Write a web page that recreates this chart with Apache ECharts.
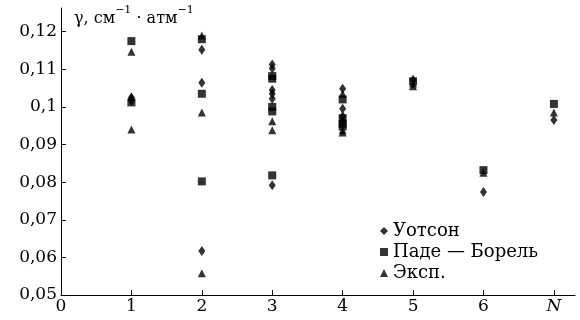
<!DOCTYPE html>
<html lang="ru">
<head>
<meta charset="UTF-8">
<title>gamma</title>
<script src="https://cdn.jsdelivr.net/npm/echarts@6/dist/echarts.min.js"></script>
<style>
  html, body { margin: 0; padding: 0; background: #fff; }
  #chart { width: 580px; height: 320px; }
</style>
</head>
<body>
<div id="chart"></div>
<script>
  // подписи оси X (последняя — N)
  var xTicks = [0, 1, 2, 3, 4, 5, 6, 7];
  var xLabels = ['0', '1', '2', '3', '4', '5', '6', 'N'];
  var yTicks = [0.05, 0.06, 0.07, 0.08, 0.09, 0.1, 0.11, 0.12];

  var seriesNames = ['Уотсон', 'Паде — Борель', 'Эксп.'];

  // Уотсон
  var watson = [
    [1, 0.1025], [1, 0.1017],
    [2, 0.1152], [2, 0.1064], [2, 0.0617],
    [3, 0.1113], [3, 0.1102], [3, 0.1045], [3, 0.1035], [3, 0.1022], [3, 0.0792],
    [4, 0.1048], [4, 0.0995], [4, 0.0975], [4, 0.0962],
    [5, 0.1072],
    [6, 0.0774],
    [7, 0.0965]
  ];
  // Паде — Борель
  var padeBorel = [
    [1, 0.1175], [1, 0.1012],
    [2, 0.1180], [2, 0.1035], [2, 0.0802],
    [3, 0.1082], [3, 0.1075], [3, 0.1000], [3, 0.0988], [3, 0.0818],
    [4, 0.1020], [4, 0.0970], [4, 0.0955], [4, 0.0948],
    [5, 0.1068],
    [6, 0.0832],
    [7, 0.1008]
  ];
  // Эксп.
  var experiment = [
    [1, 0.1147], [1, 0.1027], [1, 0.0940],
    [2, 0.1190], [2, 0.0985], [2, 0.0558],
    [3, 0.0962], [3, 0.0938],
    [4, 0.1035], [4, 0.0938], [4, 0.0932],
    [5, 0.1055], [5, 0.1062],
    [6, 0.0825],
    [7, 0.0985]
  ];

  var font = 'DejaVu Serif';

  function yFmt(v) {
    var s = String(Math.round(v * 100) / 100);
    return s.replace('.', ',');
  }

  var option = {
    animation: false,
    backgroundColor: '#fff',
    textStyle: { fontFamily: font, color: '#000' },
    grid: { left: 61, right: 5, top: 8, bottom: 25, containLabel: false },
    legend: {
      orient: 'vertical',
      left: 375,
      top: 217,
      itemWidth: 8,
      itemHeight: 8,
      itemGap: 3,
      textStyle: { fontFamily: font, fontSize: 18, color: '#000', padding: [0, 0, 0, 0] },
      data: [
        { name: seriesNames[0], icon: 'diamond' },
        { name: seriesNames[1], icon: 'rect' },
        { name: seriesNames[2], icon: 'triangle' }
      ]
    },
    graphic: [{
      type: 'text',
      left: 74,
      top: 5,
      style: {
        text: '{a|γ, см}{s|−1}{a| · атм}{s|−1}',
        rich: {
          a: { fontFamily: font, fontSize: 16, fill: '#000', verticalAlign: 'bottom', lineHeight: 22 },
          s: { fontFamily: font, fontSize: 11, fill: '#000', verticalAlign: 'top', lineHeight: 22 }
        }
      }
    }],
    xAxis: {
      type: 'value',
      min: 0,
      max: 7.3,
      splitLine: { show: false },
      axisLine: { lineStyle: { color: '#000', width: 1 } },
      axisTick: { inside: true, length: 5, lineStyle: { color: '#000' }, customValues: xTicks },
      axisLabel: {
        customValues: xTicks,
        margin: 3,
        fontSize: 17,
        fontFamily: font,
        color: '#000',
        formatter: function (v) {
          var i = xTicks.indexOf(Math.round(v));
          var t = xLabels[i];
          return t === 'N' ? '{i|N}' : t;
        },
        rich: { i: { fontStyle: 'italic', fontSize: 17, fontFamily: font, color: '#000' } }
      }
    },
    yAxis: {
      type: 'value',
      min: 0.05,
      max: 0.1263,
      splitLine: { show: false },
      axisLine: { show: true, lineStyle: { color: '#000', width: 1 } },
      axisTick: { show: true, inside: true, length: 5, lineStyle: { color: '#000' }, customValues: yTicks },
      axisLabel: {
        customValues: yTicks,
        margin: 4,
        fontSize: 17,
        fontFamily: font,
        color: '#000',
        formatter: yFmt
      }
    },
    series: [
      {
        name: seriesNames[0], type: 'scatter', symbol: 'diamond', symbolSize: [7, 10],
        itemStyle: { color: '#000' }, data: watson
      },
      {
        name: seriesNames[1], type: 'scatter', symbol: 'rect', symbolSize: 8,
        itemStyle: { color: '#000' }, data: padeBorel
      },
      {
        name: seriesNames[2], type: 'scatter', symbol: 'triangle', symbolSize: [8, 8],
        itemStyle: { color: '#000' }, data: experiment
      }
    ]
  };

  echarts.init(document.getElementById('chart')).setOption(option);
</script>
</body>
</html>
